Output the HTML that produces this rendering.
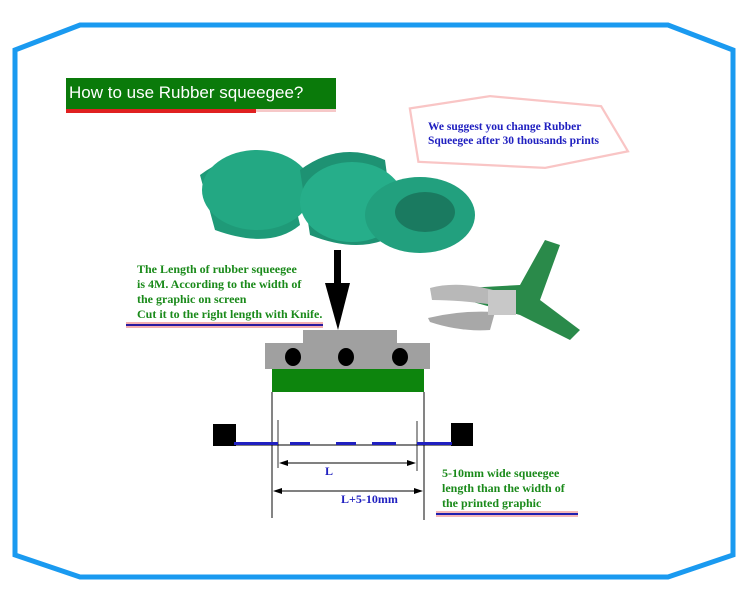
<!DOCTYPE html>
<html><head><style>
body{margin:0;width:750px;height:600px;background:#fff;position:relative;overflow:hidden;font-family:"Liberation Serif",serif}
.t{position:absolute;font-weight:bold;color:#1a8a1a;font-size:12px;line-height:15px}
</style></head><body>
<svg width="750" height="600" style="position:absolute;left:0;top:0">
<polygon points="80,25 668,25 733,50 733,555 668,577 80,577 15,555 15,50" fill="none" stroke="#1a9af0" stroke-width="5"/>
<rect x="66" y="78" width="270" height="32" fill="#0a7a0a"/>
<rect x="66" y="109" width="190" height="4" fill="#e02020"/>
<rect x="256" y="109" width="80" height="3" fill="#f6c8c8"/>
<polygon points="412,110 490,98 600,108 625,150 545,166 420,160" fill="#fff" stroke="#f6a0a0" stroke-width="6" opacity="0.6"/>
<polygon points="412,110 490,98 600,108 625,150 545,166 420,160" fill="#fff" stroke="#fff" stroke-width="1.5"/>
<g>
<path d="M200,175 Q240,145 285,160 L300,225 Q270,250 215,230 Z" fill="#1f9a78"/>
<ellipse cx="257" cy="190" rx="55" ry="40" fill="#23a883"/>
<path d="M300,170 Q340,140 385,160 L395,235 Q360,255 310,235 Z" fill="#1e9273"/>
<ellipse cx="352" cy="202" rx="52" ry="40" fill="#26ae8a"/>
<ellipse cx="420" cy="215" rx="55" ry="38" fill="#22a07e"/>
<ellipse cx="425" cy="212" rx="30" ry="20" fill="#1a7a60"/>
</g>
<path d="M430,290 L520,285 L545,240 L560,245 L540,300 L580,330 L570,340 L520,315 Z" fill="#2a8a4a"/>
<path d="M430,288 Q460,280 500,292 L495,305 Q460,300 432,300 Z" fill="#b8b8b8"/>
<path d="M428,318 Q460,310 495,312 L490,330 Q460,332 430,322 Z" fill="#a8a8a8"/>
<rect x="488" y="290" width="28" height="25" fill="#c8c8c8"/>
<rect x="334" y="250" width="7" height="35" fill="#000"/>
<polygon points="325,283 350,283 338,330" fill="#000"/>
<line x1="126" y1="325" x2="323" y2="325" stroke="#f4b0b0" stroke-width="6"/>
<line x1="126" y1="325" x2="323" y2="325" stroke="#2a1aa0" stroke-width="2"/>
<rect x="303" y="330" width="94" height="14" fill="#a0a0a0"/>
<rect x="265" y="343" width="165" height="26" fill="#a0a0a0"/>
<ellipse cx="293" cy="357" rx="8" ry="9" fill="#000"/>
<ellipse cx="346" cy="357" rx="8" ry="9" fill="#000"/>
<ellipse cx="400" cy="357" rx="8" ry="9" fill="#000"/>
<rect x="272" y="369" width="152" height="23" fill="#0d850d"/>
<line x1="272" y1="392" x2="272" y2="518" stroke="#333" stroke-width="1.2"/>
<line x1="424" y1="392" x2="424" y2="520" stroke="#333" stroke-width="1.2"/>
<line x1="278" y1="420" x2="278" y2="468" stroke="#333"/>
<line x1="417" y1="421" x2="417" y2="471" stroke="#333"/>
<rect x="213" y="424" width="23" height="22" fill="#000"/>
<rect x="451" y="423" width="22" height="23" fill="#000"/>
<line x1="236" y1="445" x2="451" y2="445" stroke="#000" stroke-width="1"/>
<g fill="#2020c0">
<rect x="234" y="442" width="44" height="3"/><rect x="290" y="442" width="20" height="3"/>
<rect x="336" y="442" width="20" height="3"/><rect x="372" y="442" width="24" height="3"/>
<rect x="417" y="442" width="35" height="3"/></g>
<line x1="282" y1="463" x2="414" y2="463" stroke="#000"/>
<polygon points="279,463 288,460 288,466" fill="#000"/><polygon points="416,463 407,460 407,466" fill="#000"/>
<line x1="275" y1="491" x2="421" y2="491" stroke="#000"/>
<polygon points="273,491 282,488 282,494" fill="#000"/><polygon points="423,491 414,488 414,494" fill="#000"/>
<line x1="436" y1="514" x2="578" y2="514" stroke="#f6b8b8" stroke-width="6"/>
<line x1="436" y1="514" x2="578" y2="514" stroke="#2020b0" stroke-width="2"/>
</svg>
<div style="position:absolute;left:69px;top:83px;color:#fff;font:17px 'Liberation Sans',sans-serif">How to use Rubber squeegee?</div>
<div class="t" style="left:428px;top:120px;color:#2020c0;font-size:11.5px;line-height:14px">We suggest you change Rubber<br>Squeegee after 30 thousands prints</div>
<div class="t" style="left:137px;top:262px">The Length of rubber squeegee<br>is 4M. According to the width of<br>the graphic on screen<br>Cut it to the right length with Knife.</div>
<div class="t" style="left:325px;top:464px;color:#2020c0">L</div>
<div class="t" style="left:341px;top:492px;color:#2020c0">L+5-10mm</div>
<div class="t" style="left:442px;top:466px">5-10mm wide squeegee<br>length than the width of<br>the printed graphic</div>
</body></html>
